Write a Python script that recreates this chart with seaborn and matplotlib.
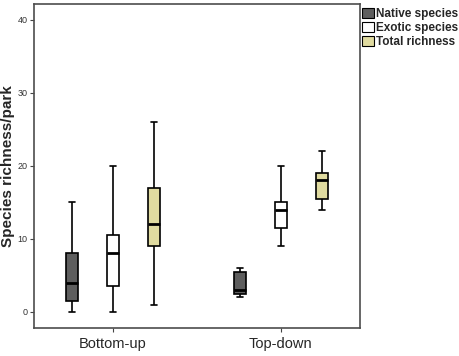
import matplotlib
matplotlib.use("Agg")
import matplotlib.pyplot as plt
import matplotlib.patches as mpatches
import seaborn as sns
import pandas as pd

# five-number summaries: min, q1, median, q3, max
groups = ["Bottom-up", "Top-down"]
types = ["Native species", "Exotic species", "Total richness"]
bu_native = [0, 1.5, 4, 8, 15]
bu_exotic = [0, 3.5, 8, 10.5, 20]
bu_total = [1, 9, 12, 17, 26]
td_native = [2, 2.4, 3, 5.5, 6]
td_exotic = [9, 11.5, 14, 15, 20]
td_total = [14, 15.5, 18, 19, 22]
colors = ["#5e5e5e", "#ffffff", "#e0dba0"]

rows = []
for g, series in zip(groups, [[bu_native, bu_exotic, bu_total],
                              [td_native, td_exotic, td_total]]):
    for t, vals in zip(types, series):
        for v in vals:
            rows.append({"group": g, "type": t, "value": v})
df = pd.DataFrame(rows)

sns.set_style("white")
plt.rcParams["font.family"] = ["Liberation Sans", "DejaVu Sans"]

fig = plt.figure(figsize=(4.59, 3.56), dpi=100)
ax = fig.add_axes([0.074, 0.079, 0.71, 0.91])

sns.boxplot(
    data=df, x="group", y="value", hue="type",
    order=groups, hue_order=types, palette=colors,
    whis=(0, 100), width=0.73, gap=0.71, linecolor="black", linewidth=1.2,
    medianprops={"linewidth": 2.0, "color": "black"},
    saturation=1, legend=False, ax=ax,
)

ax.set_xlim(-0.47, 1.47)
ax.set_ylim(-2.2, 42.2)
ax.set_yticks([0, 10, 20, 30, 40])
ax.set_xlabel("")
ax.set_ylabel("Species richness/park", fontsize=11, fontweight="bold", labelpad=2)
ax.tick_params(axis="y", labelsize=6.5, length=3, pad=1.5, color="#444444",
               labelcolor="#333333", left=True)
ax.tick_params(axis="x", labelsize=10.5, length=3, color="#444444", bottom=True)
for s in ax.spines.values():
    s.set_color("#4d4d4d")
    s.set_linewidth(1.2)

handles = [mpatches.Patch(facecolor=c, edgecolor="black", linewidth=0.8, label=t)
           for c, t in zip(colors, types)]
fig.legend(handles=handles, loc="upper left", bbox_to_anchor=(0.783, 0.985),
           frameon=False, handlelength=1.0, handleheight=1.0, handletextpad=0.2,
           labelspacing=0.15, borderaxespad=0, borderpad=0.2,
           prop={"weight": "bold", "size": 8.5})

fig.savefig("out.png", dpi=100)
